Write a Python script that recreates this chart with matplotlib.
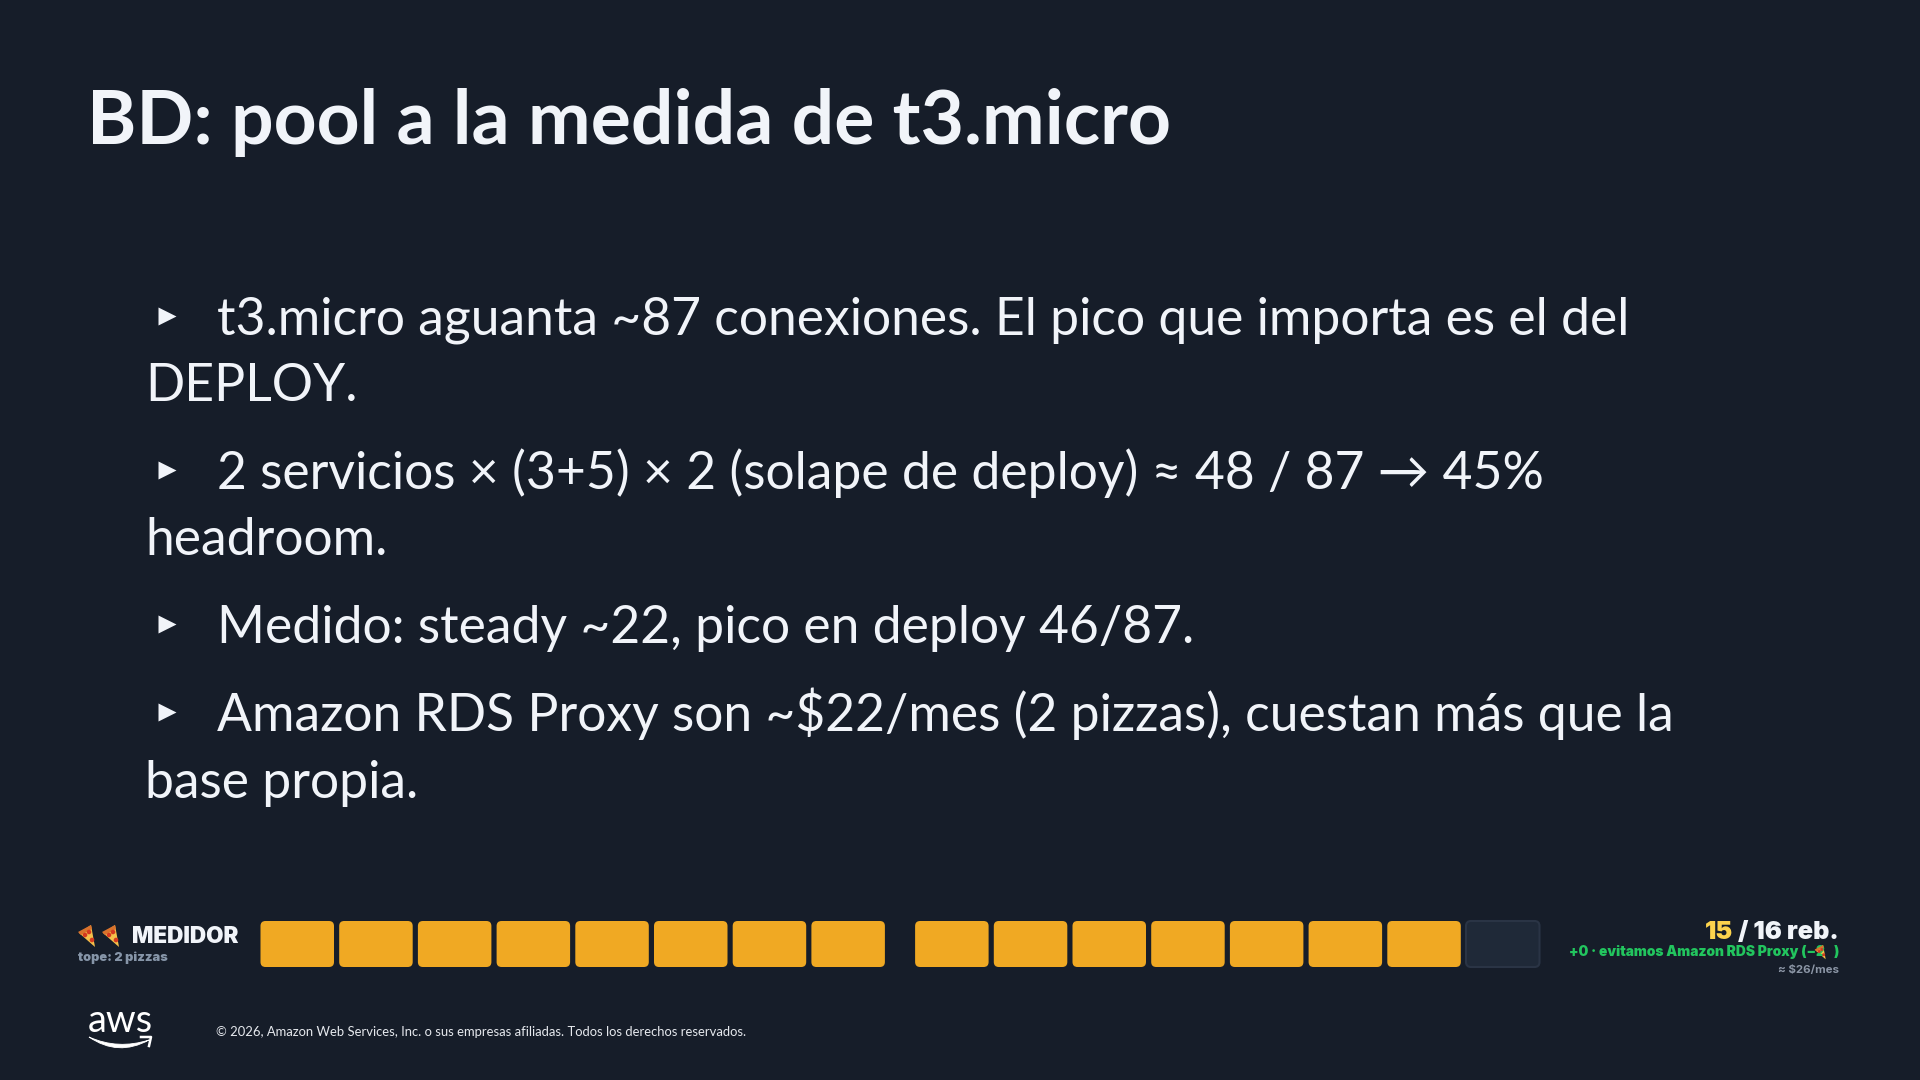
import numpy as np
import matplotlib
matplotlib.use('Agg')
import matplotlib.pyplot as plt
from matplotlib.patches import FancyBboxPatch, Polygon, Circle, PathPatch
from matplotlib.path import Path

plt.rcParams['font.family'] = ['Lato', 'DejaVu Sans']

# Textos de la diapositiva
titulo = 'BD: pool a la medida de t3.micro'
bullets = [
    ['t3.micro aguanta ~87 conexiones. El pico que importa es el del', 'DEPLOY.'],
    ['2 servicios × (3+5) × 2 (solape de deploy) ≈ 48 / 87 → 45%', 'headroom.'],
    ['Medido: steady ~22, pico en deploy 46/87.'],
    ['Amazon RDS Proxy son ~$22/mes (2 pizzas), cuestan más que la', 'base propia.'],
]
baselines = [[335, 401], [489, 555], [643], [731, 798]]
copyright_txt = '© 2026, Amazon Web Services, Inc. o sus empresas afiliadas. Todos los derechos reservados.'

# Medidor
rebanadas = 15
total = 16
por_grupo = 8

FONDO = '#161d29'
BLANCO = '#f1f4f9'
AMBAR = '#f0a923'
VERDE = '#22c55e'

fig = plt.figure(figsize=(19.2, 10.8), dpi=100, facecolor=FONDO)
ax = fig.add_axes([0, 0, 1, 1])
ax.set_xlim(0, 1920)
ax.set_ylim(1080, 0)
ax.axis('off')


def px(p):
    return p * 0.72


def pizza(x, y, s=1.0):
    # porcion de pizza dibujada a mano, no hay fuente de emoji
    # x, y es la esquina superior izquierda
    ax.add_patch(Polygon([(x + 1*s, y + 8*s), (x + 13*s, y + 0*s), (x + 17*s, y + 22*s)], closed=True,
                         fc='#f6c04a', ec='none', zorder=3))
    ax.add_patch(Polygon([(x + 0*s, y + 7*s), (x + 13*s, y + 0*s), (x + 14*s, y + 4*s), (x + 3*s, y + 10*s)],
                         closed=True, fc='#d9722c', ec='none', zorder=4))
    for dx, dy in [(11, 7), (14, 15), (7, 10)]:
        ax.add_patch(Circle((x + dx*s, y + dy*s), 2.3*s, fc='#d5391f', ec='none', zorder=5))


def derecha(segmentos, x_fin, y, size, weight='bold'):
    # coloca tramos de distinto color alineados a la derecha
    r = fig.canvas.get_renderer()
    x = x_fin
    for txt, col in reversed(segmentos):
        t = ax.text(x, y, txt, color=col, fontsize=px(size), fontweight=weight, family='Inter',
                    ha='right', va='baseline')
        x = ax.transData.inverted().transform(t.get_window_extent(r))[0][0]
    return x


ax.text(87, 144, titulo, color=BLANCO, fontsize=px(75), fontweight='bold', va='baseline')

for lineas, ys in zip(bullets, baselines):
    ax.plot([167], [ys[0] - 19], marker='>', ms=12.5, color=BLANCO, mec='none')
    for i, (linea, y) in enumerate(zip(lineas, ys)):
        ax.text(217 if i == 0 else 145, y, linea, color=BLANCO, fontsize=px(51.6), va='baseline')

# barra del medidor
ancho = 73.5
paso = 78.7
for i in range(total):
    x = 260.5 + paso * i + (25 if i >= por_grupo else 0)
    llena = i < rebanadas
    ax.add_patch(FancyBboxPatch((x + 5, 921 + 5), ancho - 10, 46 - 10,
                                boxstyle='round,pad=5,rounding_size=5',
                                fc=AMBAR if llena else '#1f2938',
                                ec='none' if llena else '#2a3445', lw=1.5))

pizza(78, 925)
pizza(102, 925)
ax.text(132, 943, 'MEDIDOR', color=BLANCO, fontsize=px(22.5), fontweight='black', family='Inter', va='baseline')
ax.text(78, 961, 'tope: 2 pizzas', color='#8695a8', fontsize=px(12.8), fontweight='black', family='Inter', va='baseline')

derecha([('15', '#fcd34d'), (' / 16 reb.', BLANCO)], 1839, 939, 25.3, weight='black')
x_par = derecha([(')', VERDE)], 1839, 956, 13.8, weight='black')
pizza(x_par - 19, 945, 0.65)
derecha([('+0 · evitamos Amazon RDS Proxy (−2', VERDE)], x_par - 9, 956, 13.8, weight='black')
derecha([('≈ $26/mes', '#8b95a5')], 1839, 973, 11.5)

# logo aws
ax.text(120, 1032, 'aws', color='white', fontsize=px(38), ha='center', va='baseline')
sonrisa = Path([(89, 1037), (118, 1057), (149, 1040), (118, 1050), (89, 1037)],
               [Path.MOVETO, Path.CURVE3, Path.CURVE3, Path.CURVE3, Path.CURVE3])
ax.add_patch(PathPatch(sonrisa, fc='white', ec='white', lw=0.6))
ax.plot([141, 151, 149], [1037, 1037, 1046], color='white', lw=1.8)

ax.text(216, 1036, copyright_txt, color='#e6e9ee', fontsize=px(13), va='baseline')

fig.savefig('out.png', dpi=100, facecolor=FONDO)
